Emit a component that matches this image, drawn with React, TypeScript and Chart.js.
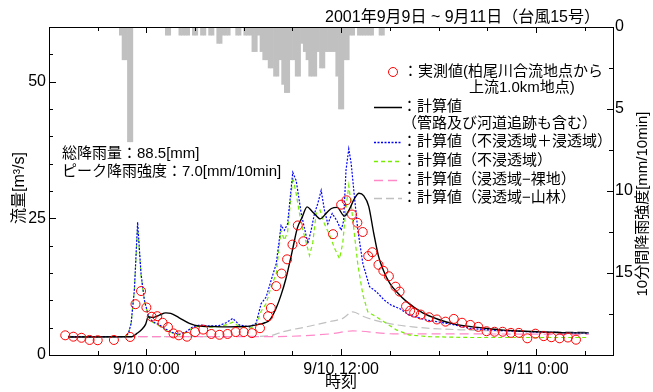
import React, { useEffect, useRef } from 'react';
import { Chart, registerables } from 'chart.js';

Chart.register(...registerables);

// ---- time axis (hours relative to 2001/9/10 0:00) ----
const xTickHours = [0, 12, 24];
const xTickLabels = ['9/10 0:00', '9/10 12:00', '9/11 0:00'];

// ---- rainfall, 10-minute totals [mm/10min], first bin starts 9/9 22:20 ----
const rainStartHour = -5 / 3;
const rainValues = [
  0.5, 2, 2, 7, 7,
  0, 0, 0, 0, 0, 0, 0, 0, 0, 0, 0, 0,
  0.5, 0.5, 0, 0, 0,
  0.5, 0.5, 0.5, 0.5, 0,
  0.5, 0.5, 0,
  0.5, 0.5, 0,
  0.5, 0.5, 0,
  1, 1,
  0.5, 0.5, 0.5, 0, 0,
  0.5, 0.5, 0,
  0.5, 0.5, 0.5, 1.5, 1.5, 0.5, 1.5, 2, 2, 2.5, 2.5, 3, 3, 2, 3.5, 4, 4, 2, 2, 3, 3,
  1, 1.5, 2, 3, 3, 3, 1.5, 2.5, 2.5, 1.5, 1.5, 1.5, 1.5, 3, 5, 5, 2, 2, 0.5, 0.5,
  0, 0.5, 0.5, 0.5, 0.5, 0.5, 0.5, 0, 0, 0.5, 0.5,
];

// ---- observed discharge [m3/s] ----
const obsHours = [-5, -4.5, -4, -3.5, -3, -2, -1, -0.67, -0.33, 0, 0.33, 0.67, 1, 1.33, 1.67, 2, 2.5, 3, 3.5, 4,
  4.5, 5, 5.5, 6, 6.5, 7, 7.5, 7.67, 8, 8.33, 8.67, 9, 9.33, 9.67, 11.5, 12, 12.33, 12.67, 13, 13.33,
  13.67, 13.92, 14.3, 14.6, 14.94, 15.35, 15.6, 16, 16.25, 16.5, 16.9, 17.42, 17.9, 18.43, 18.94, 19.45, 19.96, 20.45, 20.96, 21.45,
  21.95, 22.46, 22.95, 23.47, 23.97, 24.48, 24.95, 25.46, 25.97, 26.47];
const obsFlow = [3.6, 3.35, 3.15, 2.75, 2.7, 2.75, 3.3, 9.3, 11.7, 8.7, 7.0, 7.1, 5.9, 5.1, 3.95, 3.6, 3.35, 4.2, 4.65, 3.85,
  3.7, 3.85, 4.2, 4.2, 4.0, 4.9, 7.1, 8.6, 12.6, 14.9, 17.5, 20.2, 23.7, 20.8, 22.1, 27.5, 28.3, 25.7, 24.2, 22.5,
  18.1, 18.8, 16.5, 15.4, 14.4, 12.5, 11.6, 8.9, 8.1, 7.75, 7.4, 6.9, 6.5, 6.1, 6.6, 5.9, 5.5, 5.15, 4.35, 4.25,
  4.25, 4.05, 4.05, 3.05, 3.9, 3.45, 3.25, 3.05, 3.2, 2.8];

// ---- calculated: with pipe & channel routing ----
const calcHours = [-4.83, -0.9, -0.6, -0.3, -0.05, 0.12, 0.4, 0.8, 1.2, 1.5, 2.0, 2.65, 3.2, 4.0, 5.0, 6.0, 7.0, 7.3, 7.6, 8.0,
  8.3, 8.6, 9.0, 9.3, 9.6, 9.9, 10.2, 10.5, 10.7, 11.1, 11.4, 11.75, 12.2, 12.5, 12.8, 13.1, 13.4, 13.7, 14.0, 14.3,
  14.6, 15.0, 15.5, 16.0, 17.0, 18.0, 19.0, 20.0, 21.0, 22.0, 23.0, 24.0, 25.0, 26.0, 27.25];
const calcFlow = [3.3, 3.35, 3.9, 4.6, 5.6, 7.0, 6.85, 7.3, 7.7, 7.6, 6.85, 5.8, 5.3, 5.2, 5.15, 5.2, 5.65, 5.9, 6.4, 8.6,
  11.0, 14.0, 19.2, 23.2, 25.2, 27.1, 26.3, 25.4, 24.9, 26.0, 26.8, 27.0, 25.4, 26.6, 28.5, 29.6, 29.1, 27.2, 22.4, 18.1,
  15.5, 13.1, 11.3, 9.85, 7.75, 6.5, 5.65, 5.2, 4.85, 4.55, 4.4, 4.25, 4.15, 4.05, 4.05];

// ---- calculated: impervious + pervious ----
const bothHours = [-4.83, -1.3, -1.1, -0.94, -0.74, -0.54, -0.33, -0.12, 0.14, 0.39, 0.8, 1.21, 1.62, 2.03, 2.45, 2.85, 3.27, 3.88, 4.5, 4.91,
  5.32, 5.73, 6.35, 6.76, 7.07, 7.38, 7.69, 8.0, 8.3, 8.5, 8.7, 9.02, 9.23, 9.54, 9.95, 10.15, 10.36, 10.56, 10.77, 10.97,
  11.18, 11.45, 11.75, 12.0, 12.15, 12.3, 12.47, 12.62, 12.82, 13.03, 13.34, 13.75, 14.16, 14.67, 15.09, 15.6, 16.2, 17.25, 18.5, 19.9,
  21, 22, 24, 27.25];
const bothFlow = [3.35, 3.35, 4.0, 5.8, 11.9, 24.3, 14.9, 10.0, 7.0, 6.1, 5.5, 4.7, 4.1, 3.8, 4.25, 5.15, 5.5, 5.3, 5.4, 5.9,
  6.7, 5.5, 5.15, 5.8, 9.4, 10.6, 13.7, 16.7, 23.7, 22.8, 24.0, 33.4, 31.9, 25.9, 20.4, 22.8, 25.9, 27.7, 30.1, 26.5,
  24.0, 25.9, 24.5, 22.8, 24.5, 33.8, 37.7, 35.0, 28.9, 22.8, 16.7, 12.5, 11.6, 10.0, 9.1, 8.5, 7.3, 6.4, 5.8, 4.9,
  4.6, 4.45, 4.2, 4.0];

// ---- calculated: impervious only ----
const impHours = [-4.83, -1.3, -1.1, -0.94, -0.74, -0.54, -0.33, -0.12, 0.14, 0.39, 0.8, 1.21, 1.62, 2.03, 2.45, 2.85, 3.27, 3.88, 4.5, 4.91,
  5.32, 5.73, 6.35, 6.76, 7.07, 7.38, 7.69, 8.0, 8.3, 8.5, 8.7, 9.02, 9.23, 9.54, 10.05, 10.25, 10.46, 10.7, 10.97, 11.28,
  11.6, 11.9, 12.1, 12.3, 12.47, 12.62, 12.82, 13.03, 13.34, 13.64, 14.16, 14.78, 15.4, 16.2, 17.45, 19.9, 27.25];
const impFlow = [3.35, 3.35, 4.0, 5.8, 11.9, 23.5, 14.5, 9.8, 6.9, 6.0, 5.3, 4.6, 4.0, 3.7, 4.1, 5.0, 5.3, 5.1, 5.2, 5.5,
  6.0, 5.2, 4.9, 5.4, 8.0, 9.4, 12.5, 14.9, 22.8, 21.0, 22.5, 32.5, 29.5, 24.0, 18.2, 20.5, 25.9, 26.5, 24.0, 22.0,
  19.5, 17.6, 20.5, 27.0, 31.0, 27.5, 22.0, 16.5, 11.0, 7.9, 7.0, 5.8, 4.6, 3.65, 3.35, 3.2, 3.2];

// ---- calculated: pervious - bare land ----
const bareHours = [-4.83, 7.4, 11.28, 12.72, 15.4, 19.9, 27.25];
const bareFlow = [3.35, 3.35, 3.85, 4.4, 3.85, 3.85, 3.75];

// ---- calculated: pervious - forest ----
const forestHours = [-4.83, 7.0, 7.8, 8.4, 9.85, 11.28, 12.1, 12.72, 13.34, 14.4, 16.4, 19.9, 23.0, 27.25];
const forestFlow = [3.35, 3.4, 3.65, 4.25, 5.15, 6.1, 6.7, 7.9, 7.1, 6.1, 5.15, 4.55, 4.35, 4.25];

// ---- texts ----
const titleText = '2001年9月9日 ~ 9月11日（台風15号）';
const noteLines = ['総降雨量：88.5[mm]', 'ピーク降雨強度：7.0[mm/10min]'];
const legendObs = ['：実測値(柏尾川合流地点から', '上流1.0km地点)'];
const legendCalc = ['：計算値', '（管路及び河道追跡も含む）'];
const legendOthers = ['：計算値（不浸透域＋浸透域）', '：計算値（不浸透域）', '：計算値（浸透域−裸地）', '：計算値（浸透域−山林）'];
const leftTitle = '流量[m³/s]';
const rightTitle = '10分間降雨強度[mm/10min]';
const xTitle = '時刻';

const FONT = '"Liberation Sans", "Noto Sans CJK JP", sans-serif';

const zip = (xs: number[], ys: number[]) => xs.map((x, i) => ({ x, y: ys[i] }));

const decoPlugin = {
  id: 'deco',
  afterDraw(chart: any) {
    const { ctx, chartArea: a, scales } = chart;
    const sx = scales.x, sl = scales.y, sr = scales.yR;
    ctx.save();
    ctx.strokeStyle = '#000';
    ctx.lineWidth = 1;
    ctx.setLineDash([]);
    const seg = (x1: number, y1: number, x2: number, y2: number) => {
      ctx.beginPath(); ctx.moveTo(x1, y1); ctx.lineTo(x2, y2); ctx.stroke();
    };
    seg(a.left, Math.round(a.top) + 0.5, a.right, Math.round(a.top) + 0.5);
    sx.ticks.forEach((t: any) => {
      const px = Math.round(sx.getPixelForValue(t.value)) + 0.5;
      const len = xTickHours.includes(t.value) ? 6 : 4;
      seg(px, a.bottom, px, a.bottom - len);
      seg(px, a.top, px, a.top + len);
    });
    sl.ticks.forEach((t: any) => {
      const py = Math.round(sl.getPixelForValue(t.value)) + 0.5;
      const len = t.value % 25 === 0 ? 7 : 4;
      seg(a.left, py, a.left + len, py);
    });
    sr.ticks.forEach((t: any) => {
      const py = Math.round(sr.getPixelForValue(t.value)) + 0.5;
      const len = t.value % 5 === 0 ? 6 : 4;
      seg(a.right, py, a.right - len, py);
    });

    ctx.fillStyle = '#000';
    ctx.textBaseline = 'middle';
    // title
    ctx.font = '16px ' + FONT;
    ctx.textAlign = 'right';
    ctx.fillText(titleText, 600, 18);
    // rainfall note
    ctx.font = '15px ' + FONT;
    ctx.textAlign = 'left';
    ctx.fillText(noteLines[0], 62, 154);
    ctx.fillText(noteLines[1], 62, 172);

    // legend
    const lx1 = 374, lx2 = 402;
    ctx.strokeStyle = '#ff0000';
    ctx.lineWidth = 1;
    ctx.beginPath(); ctx.arc(393, 72, 4.5, 0, Math.PI * 2); ctx.stroke();
    ctx.fillText(legendObs[0], 403, 72);
    ctx.fillText(legendObs[1], 469, 88);

    const sample = (y: number, color: string, dash: number[], w: number) => {
      ctx.strokeStyle = color; ctx.lineWidth = w; ctx.setLineDash(dash);
      seg(lx1, y + 0.5, lx2, y + 0.5);
    };
    sample(107, '#000000', [], 1.5);
    ctx.setLineDash([]);
    ctx.fillText(legendCalc[0], 402, 107);
    ctx.fillText(legendCalc[1], 402, 124);
    const ys = [142, 161, 180, 198];
    const cols = ['#0000ff', '#77ee00', '#ff88c8', '#c0c0c0'];
    const dashes = [[2, 1.5], [4, 3], [9, 5], [8, 4]];
    legendOthers.forEach((txt, i) => {
      sample(ys[i], cols[i], dashes[i], 1.3);
      ctx.setLineDash([]);
      ctx.fillText(txt, 402, ys[i]);
    });

    // axis titles
    ctx.font = '16px ' + FONT;
    ctx.textAlign = 'center';
    ctx.fillText(xTitle, 341, 383);
    ctx.save();
    ctx.translate(20, 188);
    ctx.rotate(-Math.PI / 2);
    ctx.fillText(leftTitle, 0, 0);
    ctx.restore();
    ctx.font = '15px ' + FONT;
    ctx.save();
    ctx.translate(643, 204);
    ctx.rotate(-Math.PI / 2);
    ctx.fillText(rightTitle, 0, 0);
    ctx.restore();
    ctx.restore();
  },
};

export default function App() {
  const ref = useRef<HTMLCanvasElement | null>(null);
  useEffect(() => {
    if (!ref.current) return;
    const rainData = rainValues.map((v, i) => ({ x: rainStartHour + (i + 0.5) / 6, y: v }));
    const lineBase = { pointRadius: 0, fill: false, spanGaps: true };
    const chart = new Chart(ref.current, {
      type: 'line',
      data: {
        datasets: [
          {
            type: 'line', label: 'obs', data: zip(obsHours, obsFlow), showLine: false,
            pointRadius: 4.5, pointBorderWidth: 1, pointBorderColor: '#ff0000',
            pointBackgroundColor: 'rgba(0,0,0,0)', borderColor: '#ff0000', yAxisID: 'y', order: 0,
          },
          {
            type: 'line', label: 'calc', data: zip(calcHours, calcFlow), ...lineBase,
            borderColor: '#000000', borderWidth: 1.4, cubicInterpolationMode: 'monotone', yAxisID: 'y', order: 1,
          },
          {
            type: 'line', label: 'both', data: zip(bothHours, bothFlow), ...lineBase,
            borderColor: '#0000ff', borderWidth: 1.2, borderDash: [2, 1.5], tension: 0, yAxisID: 'y', order: 2,
          },
          {
            type: 'line', label: 'imp', data: zip(impHours, impFlow), ...lineBase,
            borderColor: '#77ee00', borderWidth: 1.2, borderDash: [4, 3], tension: 0, yAxisID: 'y', order: 3,
          },
          {
            type: 'line', label: 'bare', data: zip(bareHours, bareFlow), ...lineBase,
            borderColor: '#ff88c8', borderWidth: 1.2, borderDash: [9, 5], cubicInterpolationMode: 'monotone', yAxisID: 'y', order: 4,
          },
          {
            type: 'line', label: 'forest', data: zip(forestHours, forestFlow), ...lineBase,
            borderColor: '#c0c0c0', borderWidth: 1.2, borderDash: [8, 4], cubicInterpolationMode: 'monotone', yAxisID: 'y', order: 5,
          },
          {
            type: 'bar', label: 'rain', data: rainData, backgroundColor: '#c0c0c0', borderWidth: 0,
            categoryPercentage: 1, barPercentage: 1, yAxisID: 'yR', order: 10,
          },
        ] as any,
      },
      options: {
        animation: false,
        responsive: false,
        devicePixelRatio: 1,
        events: [],
        layout: { padding: { top: 27, left: 0, right: 0, bottom: 0 } },
        plugins: { legend: { display: false }, tooltip: { enabled: false }, title: { display: false } },
        scales: {
          x: {
            type: 'linear', min: -6, max: 28.75, offset: false,
            grid: { display: false, drawTicks: false },
            border: { display: true, color: '#000', width: 1 },
            ticks: {
              stepSize: 3, includeBounds: false, autoSkip: false, maxRotation: 0, padding: 5,
              color: '#000', font: { size: 16, family: FONT },
              callback: (v: any) => { const i = xTickHours.indexOf(Number(v)); return i >= 0 ? xTickLabels[i] : ''; },
            },
            afterFit: (s: any) => { s.height = 37; },
          },
          y: {
            type: 'linear', position: 'left', min: 0, max: 60,
            grid: { display: false, drawTicks: false },
            border: { display: true, color: '#000', width: 1 },
            ticks: {
              stepSize: 5, padding: 3, color: '#000', font: { size: 16, family: FONT },
              callback: (v: any) => (Number(v) % 25 === 0 ? String(v) : ''),
            },
            afterFit: (s: any) => { s.width = 49; },
          },
          yR: {
            type: 'linear', position: 'right', min: 0, max: 20, reverse: true,
            grid: { display: false, drawTicks: false },
            border: { display: true, color: '#000', width: 1 },
            ticks: {
              stepSize: 2.5, padding: 2, color: '#000', font: { size: 16, family: FONT },
              callback: (v: any) => (Number(v) % 5 === 0 && Number(v) < 20 ? String(v) : ''),
            },
            afterFit: (s: any) => { s.width = 40; },
          },
        },
      } as any,
      plugins: [decoPlugin],
    });
    return () => chart.destroy();
  }, []);

  return (
    <div style={{ position: 'fixed', left: 0, top: 0, width: 653, height: 392, background: '#fff' }}>
      <canvas ref={ref} width={653} height={392} style={{ width: 653, height: 392, display: 'block' }} />
    </div>
  );
}
